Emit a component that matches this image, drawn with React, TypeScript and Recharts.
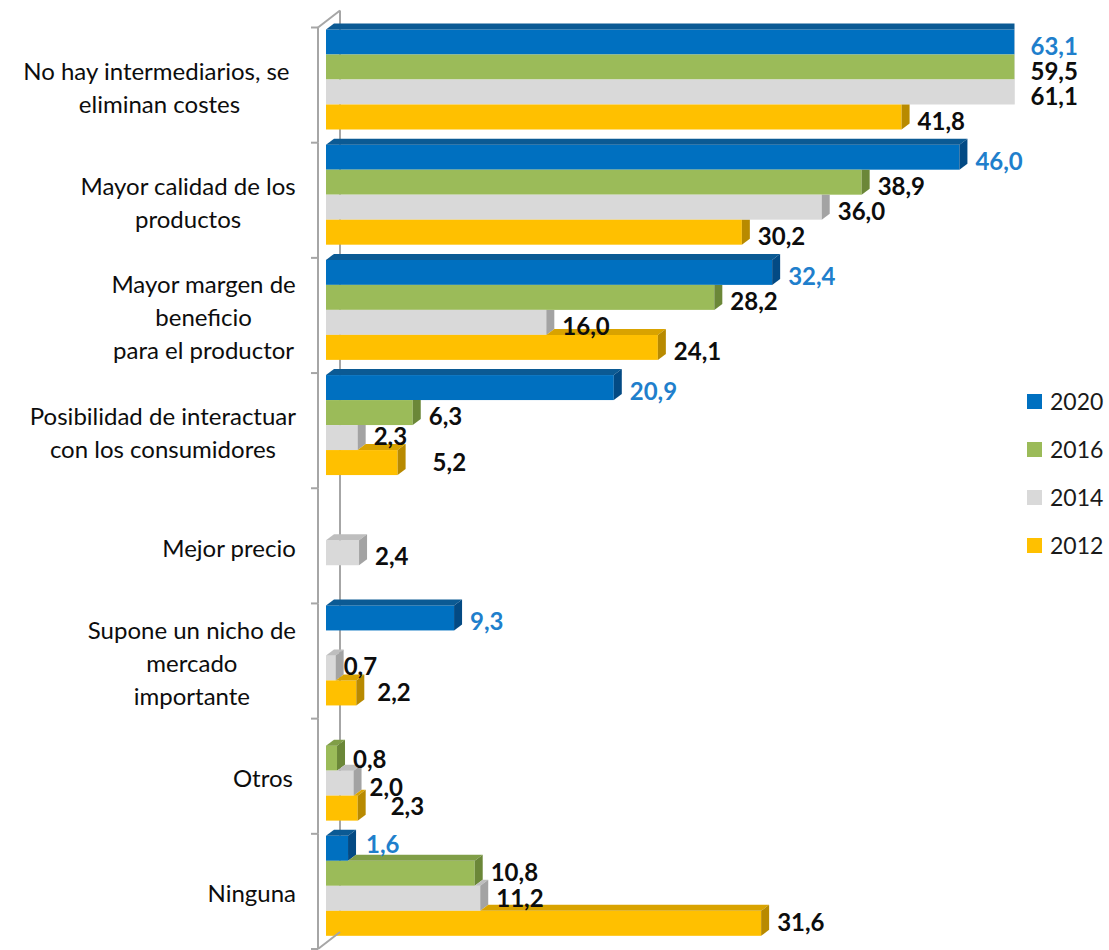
import React from 'react';
import { BarChart, Bar, XAxis, YAxis, CartesianGrid, LabelList } from 'recharts';

// ---------- data ----------
const categories = [
  'No hay intermediarios, se \neliminan costes',
  'Mayor calidad de los\nproductos',
  'Mayor margen de\nbeneficio\npara el productor',
  'Posibilidad de interactuar\ncon los consumidores',
  'Mejor precio',
  'Supone un nicho de\nmercado\nimportante',
  'Otros ',
  'Ninguna',
];
const seriesNames = ['2020', '2016', '2014', '2012'];
const values2020 = [63.1, 46.0, 32.4, 20.9, null, 9.3, null, 1.6];
const values2016 = [59.5, 38.9, 28.2, 6.3, null, null, 0.8, 10.8];
const values2014 = [61.1, 36.0, 16.0, 2.3, 2.4, 0.7, 2.0, 11.2];
const values2012 = [41.8, 30.2, 24.1, 5.2, null, 2.2, 2.3, 31.6];
const axisMax = 50;

const seriesValues = [values2020, values2016, values2014, values2012];
const keys = seriesNames.map((s) => 'y' + s);
const data = categories.map((name, i) => {
  const row: any = { name };
  keys.forEach((k, s) => (row[k] = seriesValues[s][i]));
  return row;
});
const nonNullIdx = seriesValues.map((vals) =>
  vals.map((v, i) => (v == null ? -1 : i)).filter((i) => i >= 0)
);

// ---------- style ----------
const FONT = 'Lato, "Open Sans", sans-serif';
const frontColors = ['#0070C0', '#9BBB59', '#D9D9D9', '#FFC000'];
const topColors = ['#0B5A94', '#809E47', '#BEBEBE', '#D9A300'];
const sideColors = ['#034A84', '#6B8738', '#A3A3A3', '#B88A00'];
const labelColors = ['#1F7FCC', '#0D0D0D', '#0D0D0D', '#0D0D0D'];
const AXIS_COLOR = '#A6A6A6';
const DX = 8; // bar depth x
const DY = 6; // bar depth y
const FRONT_DX = 8;
const FRONT_DY = 6;
const WALL_DX = 14;
const WALL_DY = 11;
const CAT_FS = 24;
const LINE_H = 33;
const VAL_FS = 24;
const LABEL_GAP = 8;
// manual label nudges (seriesIndex-categoryIndex)
const labelNudges: Record<string, [number, number]> = {
  '2-3': [0, -5],
  '3-3': [19, -4],
  '2-5': [-8, -5],
  '3-5': [5, -4],
  '1-6': [0, -3],
  '3-6': [17, -6],
  '0-7': [2, -8],
  '1-7': [0, -5],
  '2-7': [0, -4],
  '3-7': [0, -5],
};

let ctx: CanvasRenderingContext2D | null = null;
function measure(t: string, font: string) {
  if (!ctx) ctx = document.createElement('canvas').getContext('2d');
  if (!ctx) return t.length * 10;
  ctx.font = font;
  return ctx.measureText(t).width;
}

const fmt = (v: number) => v.toFixed(1).replace('.', ',');

function categoryIndexOf(k: number, idx: number, value: number) {
  const vals = seriesValues[k];
  if (vals[idx] != null && Number(vals[idx]) === value) return idx;
  const m = nonNullIdx[k][idx];
  return m == null ? idx : m;
}

function makeShape(k: number) {
  return (props: any) => {
    const { x, y, width, height, payload } = props;
    const v = payload ? payload[keys[k]] : null;
    if (v == null || !(width > 0) || !(height > 0)) return <g />;
    const ppu = width / v;
    const w = Math.min(width, axisMax * ppu);
    let wPrev = 0;
    if (k > 0) {
      const pv = payload[keys[k - 1]];
      wPrev = pv != null ? Math.min(pv, axisMax) * ppu : 0;
    }
    const x0 = x;
    const x1 = x + w;
    const yt = y;
    const yb = y + height;
    const parts: React.ReactNode[] = [];
    parts.push(<rect key="f" x={x0} y={yt} width={w} height={height} fill={frontColors[k]} />);
    if (k === 0 || wPrev < w) {
      const xs = x0 + (k === 0 ? 0 : wPrev);
      parts.push(
        <polygon
          key="t"
          points={`${xs},${yt} ${x1},${yt} ${x1 + DX},${yt - DY} ${xs + DX},${yt - DY}`}
          fill={topColors[k]}
        />
      );
      parts.push(
        <polygon
          key="s"
          points={`${x1},${yt} ${x1 + DX},${yt - DY} ${x1 + DX},${yb - DY} ${x1},${yb}`}
          fill={sideColors[k]}
        />
      );
    } else {
      parts.push(
        <polygon
          key="s"
          points={`${x1},${yt} ${x1 + DX},${yt} ${x1 + DX},${yb - DY} ${x1},${yb}`}
          fill={sideColors[k]}
        />
      );
    }
    return <g>{parts}</g>;
  };
}

function makeLabel(k: number) {
  return (props: any) => {
    const vb = props.viewBox || props;
    const { x, y, width, height } = vb;
    const value = props.value;
    if (value == null || value === '' || !(width > 0)) return null;
    const v = Number(value);
    const w = Math.min(width, (axisMax * width) / v);
    const ci = categoryIndexOf(k, props.index, v);
    const n = labelNudges[`${k}-${ci}`] || [0, 0];
    return (
      <text
        x={x + w + DX + LABEL_GAP + n[0]}
        y={y + height / 2 + 3 + n[1]}
        dominantBaseline="central"
        fontFamily={FONT}
        fontSize={VAL_FS}
        fontWeight="bold"
        fill={labelColors[k]}
      >
        {fmt(v)}
      </text>
    );
  };
}

function CategoryTick(props: any) {
  const { x, y, payload, index } = props;
  const half = (payload && payload.offset) || 0;
  const fx = x - FRONT_DX;
  const top = y - half + FRONT_DY;
  const bottom = y + half + FRONT_DY;
  const isLast = index === categories.length - 1;
  const lines = String(payload.value).split('\n');
  const font = `${CAT_FS}px Lato`;
  const blockW = Math.max(...lines.map((l) => measure(l, font)));
  const right = x - 30;
  const cx = right - blockW / 2;
  const cy = y + FRONT_DY + 1;
  const n = lines.length;
  return (
    <g>
      <line x1={fx} y1={top} x2={fx} y2={bottom} stroke={AXIS_COLOR} strokeWidth={2} />
      <line x1={fx - 7} y1={top} x2={fx} y2={top} stroke={AXIS_COLOR} strokeWidth={2} />
      {isLast && <line x1={fx - 7} y1={bottom} x2={fx} y2={bottom} stroke={AXIS_COLOR} strokeWidth={2} />}
      {index === 0 && (
        <line x1={fx} y1={top} x2={x + WALL_DX} y2={y - half - WALL_DY} stroke={AXIS_COLOR} strokeWidth={2} />
      )}
      {isLast && (
        <line x1={fx} y1={bottom} x2={x + WALL_DX} y2={y + half - WALL_DY} stroke={AXIS_COLOR} strokeWidth={2} />
      )}
      <text fontFamily={FONT} fontSize={CAT_FS} fill="#0D0D0D" textAnchor="middle" dominantBaseline="central">
        {lines.map((l, i) => (
          <tspan key={i} x={cx} y={cy + (i - (n - 1) / 2) * LINE_H}>
            {l}
          </tspan>
        ))}
      </text>
    </g>
  );
}

function BackWall(props: any) {
  const { x1, y1, x2, y2 } = props;
  return (
    <line
      x1={x1 + WALL_DX}
      y1={y1 - WALL_DY}
      x2={x2 + WALL_DX}
      y2={y2 - WALL_DY}
      stroke={AXIS_COLOR}
      strokeWidth={2}
    />
  );
}

export default function App() {
  return (
    <div style={{ position: 'absolute', left: 0, top: 0, width: 1109, height: 950, background: '#fff' }}>
      <BarChart
        width={1109}
        height={950}
        data={data}
        layout="vertical"
        margin={{ top: 21.5, right: 0, bottom: 7, left: 0 }}
        barGap={0}
        barSize={25}
      >
        <CartesianGrid
          horizontal={false}
          vertical={BackWall}
          verticalCoordinatesGenerator={(args: any) => (args && args.offset ? [args.offset.left] : [])}
        />
        <XAxis
          type="number"
          domain={[0, axisMax]}
          allowDataOverflow
          hide
          padding={{ left: 0, right: 94.5 }}
        />
        <YAxis
          type="category"
          dataKey="name"
          width={326}
          interval={0}
          axisLine={false}
          tickLine={false}
          tickSize={0}
          tickMargin={0}
          tick={(p: any) => <CategoryTick {...p} />}
        />
        {keys.map((k, i) => (
          <Bar key={k} dataKey={k} name={seriesNames[i]} fill={frontColors[i]} isAnimationActive={false} shape={makeShape(i)}>
            <LabelList dataKey={k} content={makeLabel(i)} />
          </Bar>
        ))}
      </BarChart>
      <div style={{ position: 'absolute', left: 1027, top: 377, fontFamily: FONT, fontSize: 23, color: '#1A1A1A' }}>
        {seriesNames.map((s, i) => (
          <div key={s} style={{ display: 'flex', alignItems: 'center', height: 48 }}>
            <span style={{ display: 'inline-block', width: 15, height: 15, background: frontColors[i], marginRight: 8 }} />
            <span>{s}</span>
          </div>
        ))}
      </div>
    </div>
  );
}
